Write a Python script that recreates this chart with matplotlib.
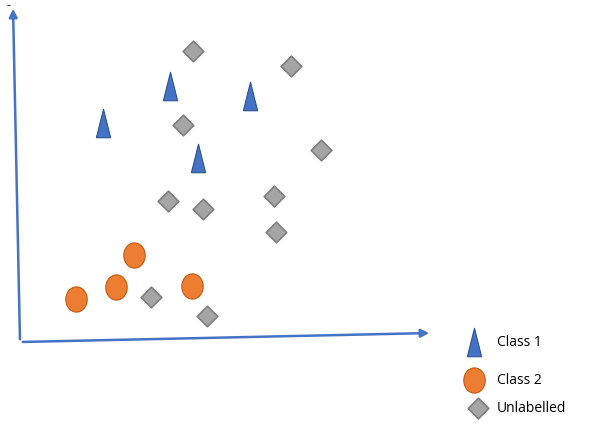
import matplotlib.pyplot as plt
import numpy as np

# point positions (pixel space, y downward)
class1_x = [103, 170, 250, 198]
class1_y = [123, 86, 96, 158]
class2_x = [134, 76, 116, 192]
class2_y = [255, 299, 287, 286]
unlab_x = [193, 291, 183, 321, 168, 203, 274, 276, 151, 207]
unlab_y = [51, 66, 125, 150, 201, 209, 196, 232, 297, 316]

legend_labels = ["Class 1", "Class 2", "Unlabelled"]

blue = "#4472C4"
orange = "#ED7D31"
grey = "#A5A5A5"

tri = [(-0.5, -1), (0.5, -1), (0, 1), (-0.5, -1)]
t = np.linspace(0, 2 * np.pi, 40)
ell = list(zip(0.85 * np.cos(t), np.sin(t)))

fig = plt.figure(figsize=(5.89, 4.24), dpi=100)
ax = fig.add_axes([0, 0, 1, 1])
ax.set_xlim(0, 589)
ax.set_ylim(424, 0)
ax.axis("off")

ax.annotate("", xy=(13, 6), xytext=(20, 342),
            arrowprops=dict(arrowstyle="-|>", color=blue, lw=1.8, mutation_scale=12))
ax.annotate("", xy=(432, 333), xytext=(20, 342),
            arrowprops=dict(arrowstyle="-|>", color=blue, lw=1.8, mutation_scale=12))
ax.text(8, 5, "-", fontsize=8, ha="center", va="center")

ax.scatter(class1_x, class1_y, marker=tri, s=420, color=blue, edgecolor="#2F528F", lw=0.8, zorder=3)
ax.scatter(class2_x, class2_y, marker=ell, s=330, color=orange, edgecolor="#C55A11", lw=0.8, zorder=3)
ax.scatter(unlab_x, unlab_y, marker="D", s=110, color=grey, edgecolor="#7F7F7F", lw=1.2, zorder=3)

# legend drawn by hand
ax.scatter([474], [342], marker=tri, s=420, color=blue, edgecolor="#2F528F", lw=0.8)
ax.scatter([474], [380], marker=ell, s=330, color=orange, edgecolor="#C55A11", lw=0.8)
ax.scatter([478], [408], marker="D", s=110, color=grey, edgecolor="#7F7F7F", lw=1.2)
for yy, lab in zip([342, 380, 408], legend_labels):
    ax.text(497, yy, lab, fontsize=10, va="center", ha="left", family="Open Sans")

fig.savefig("out.png", dpi=100)
